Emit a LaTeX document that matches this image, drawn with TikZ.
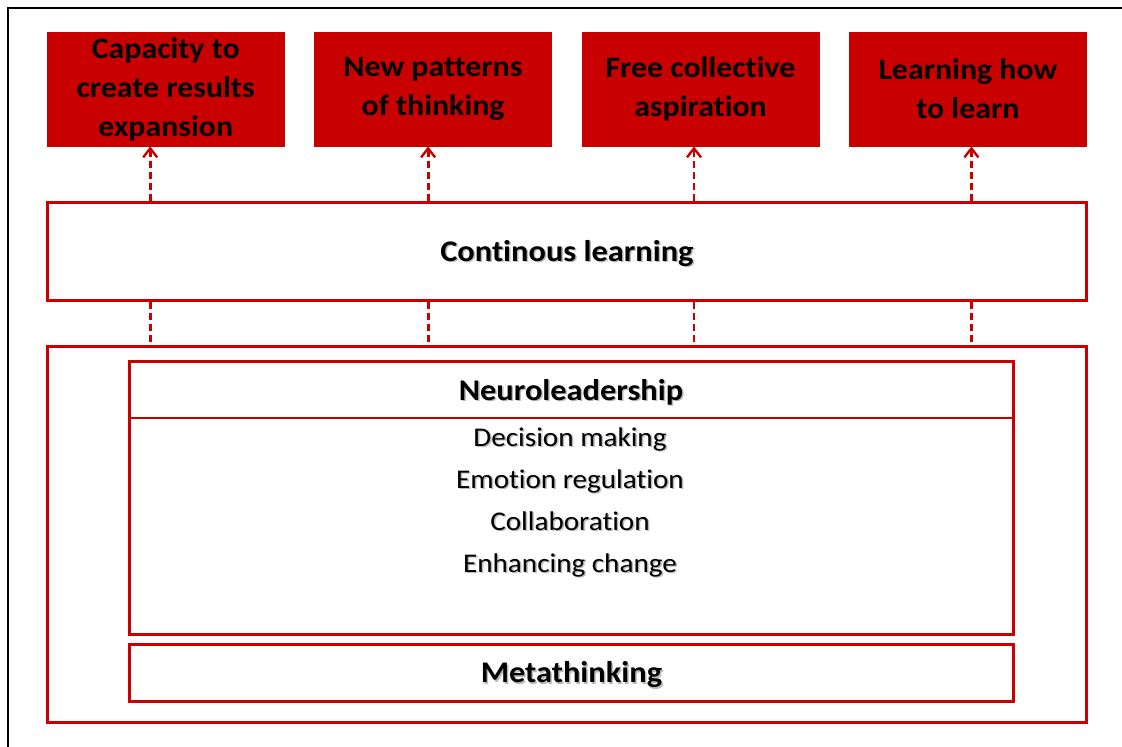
\documentclass[tikz,border=0pt]{standalone}
\usepackage{fontspec}
\setmainfont{Carlito}[Ligatures=NoCommon, FakeStretch=1.08]
\usetikzlibrary{positioning, arrows.meta}
\definecolor{deepred}{RGB}{200,0,0}
\tikzset{
x=1pt, y=-1pt, % one unit per pixel, y running downwards
goal/.style={draw=deepred, fill=deepred, minimum width=237pt, minimum height=114pt, inner sep=0pt, align=center, text=black, font=\bfseries\fontsize{29.5}{39}\selectfont},
panel/.style={draw=deepred, line width=2.8pt, inner sep=0pt},
heading/.style={font=\bfseries\fontsize{30}{34}\selectfont, text=black},
item/.style={align=center, font=\fontsize{27}{42}\selectfont, text=black},
ghost/.style={text=black!55, opacity=0.5}, % soft drop shadow under the text
link/.style={draw=deepred, line width=2.8pt, dash pattern=on 7pt off 4pt},
tip/.style={-{Straight Barb[length=9pt, width=14pt, line width=2.4pt]}},
}
\begin{document}
\begin{tikzpicture}
\useasboundingbox (0,0) rectangle (1122,747);
% frame
\draw[line width=2.5pt] (8,747) -- (8,8) -- (1122,8);

% outcomes along the top
\node[goal, anchor=north west] (cap) at (47,32) {Capacity to\\create results\\expansion};
\node[goal, right=30pt of cap] (pat) {New patterns\\of thinking};
\node[goal, right=30pt of pat] (asp) {Free collective\\aspiration};
\node[goal, right=30pt of asp] (how) {Learning how\\to learn};

% continuous learning band
\node[panel, minimum width=1039pt, minimum height=98pt, anchor=north west] (learn) at (46,201) {};
\node[heading, ghost] (learnshade) at ([shift={(1.5,3.5)}]learn.center) {Continous learning};
\node[heading] (learntext) at ([shift={(0,2)}]learn.center) {Continous learning};

% base with neuroleadership and metathinking
\node[panel, minimum width=1039pt, minimum height=376pt, anchor=north west] (base) at (46,345) {};
\node[panel, minimum width=884pt, minimum height=273pt, anchor=north west] (neuro) at (128,360) {};
\draw[deepred, line width=2.4pt] ([yshift=-58pt]neuro.north west) -- ([yshift=-58pt]neuro.north east);
\node[heading, ghost] (neuroshade) at (572.5,393.5) {Neuroleadership};
\node[heading] (neurotext) at (571,392) {Neuroleadership};
\node[item, ghost] (skillshade) at (571.5,503.5) {Decision making\\Emotion regulation\\Collaboration\\Enhancing change};
\node[item] (skills) at (570,502) {Decision making\\Emotion regulation\\Collaboration\\Enhancing change};
\node[panel, minimum width=884pt, minimum height=57pt, anchor=north west] (meta) at (128,643) {};
\node[heading, ghost] (metashade) at ([shift={(1.5,3.5)}]meta.center) {Metathinking};
\node[heading] (metatext) at ([shift={(0,2)}]meta.center) {Metathinking};

% dashed links
\foreach \g/\dx in {cap/-15.5, pat/-5, asp/-6.5, how/3.5} {
  \draw[link, tip] ([xshift=\dx pt]learn.north -| \g.south) -- ([xshift=\dx pt]\g.south);
  \draw[link] ([xshift=\dx pt]learn.south -| \g.south) -- ([xshift=\dx pt]base.north -| \g.south);
}
\end{tikzpicture}
\end{document}
